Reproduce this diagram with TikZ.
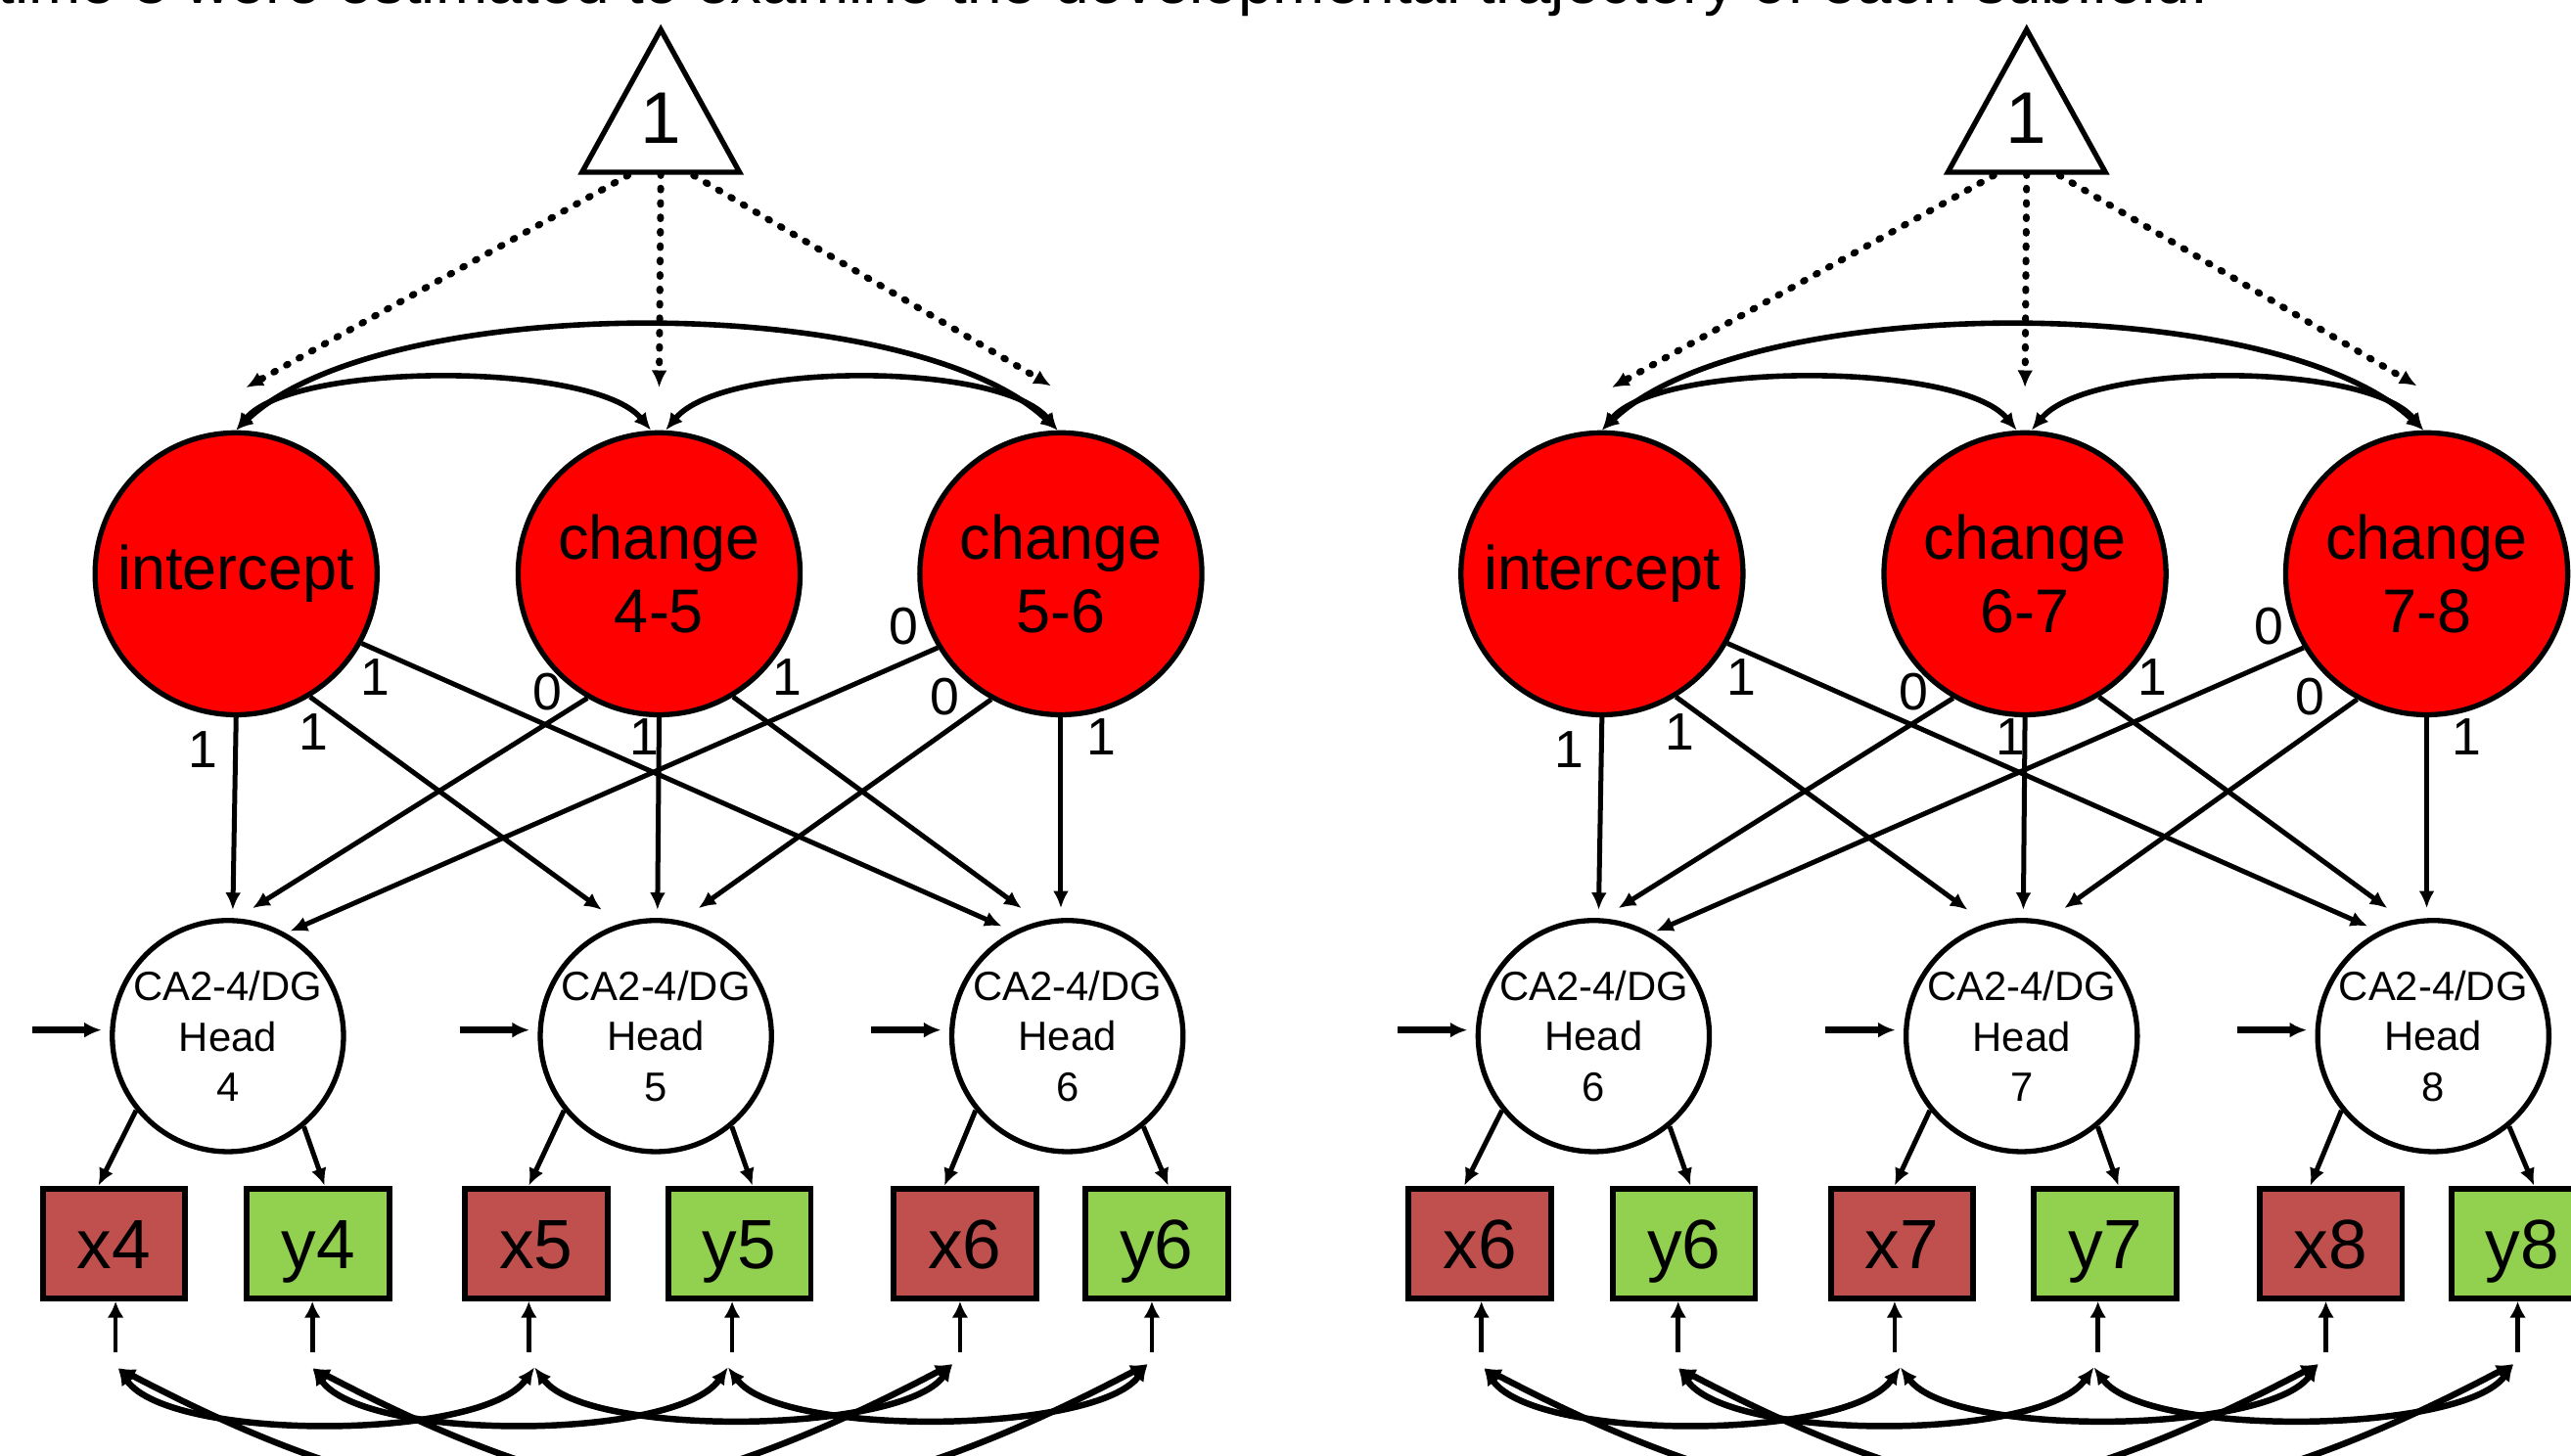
\documentclass[tikz,border=0pt]{standalone}
\usepackage{fontspec}
\setmainfont{Liberation Sans}
\usetikzlibrary{arrows.meta}
\definecolor{latred}{HTML}{FF0000}
\definecolor{boxred}{HTML}{C0504D}
\definecolor{boxgreen}{HTML}{92D050}
\tikzset{
  mytip/.tip={Latex[length=1.05mm,width=0.95mm]},
  smalltip/.tip={Latex[length=1.0mm,width=1.0mm]},
  latent/.style={circle, draw, line width=0.9pt, fill=latred, minimum size=17.2mm, inner sep=0pt, align=center, font=\fontsize{10.7}{12.8}\selectfont},
  headc/.style={circle, draw, line width=0.9pt, fill=white, minimum size=14.1mm, inner sep=0pt},
  headtxt/.style={align=center, inner sep=0pt, font=\fontsize{7.1}{8.7}\selectfont},
  obsbox/.style={rectangle, draw, line width=1.0pt, minimum width=8.7mm, minimum height=6.7mm, inner sep=0pt, text height=3.1mm, text depth=0mm, font=\fontsize{12.1}{14}\selectfont},
  load/.style={line width=0.85pt, -mytip},
  lbl/.style={inner sep=0pt, font=\fontsize{9.1}{10}\selectfont},
  covtop/.style={line width=0.95pt, mytip-mytip},
  covbot/.style={line width=1.1pt, mytip-mytip},
  meanline/.style={line width=1.2pt, line cap=round, dash pattern=on 0.3pt off 2.2pt, -mytip},
  residh/.style={line width=1.1pt, -mytip},
  residb/.style={line width=0.8pt, -smalltip},
}
\newcommand{\mypanel}[5]{%
\begin{scope}[shift={(#2,0)}]
  % mean triangle
  \draw[line width=0.9pt, fill=white] (403,18) -- (451,105) -- (355,105) -- cycle;
  \node[inner sep=0pt, font=\fontsize{12.7}{14}\selectfont] (#1one) at (403,72) {1};
  \coordinate (#1tri) at (403,106);
  % latent growth factors
  \node[latent] (#1I) at (144,350) {intercept};
  \node[latent] (#1C1) at (402,350) {change\\#3-#4};
  \node[latent] (#1C2) at (647,350) {change\\#4-#5};
  % head latent variables
  \node[headc, label={[headtxt]center:{CA2-4/DG\\Head\\#3}}] (#1Ha) at (139,632) {};
  \node[headc, label={[headtxt]center:{CA2-4/DG\\Head\\#4}}] (#1Hb) at (400,632) {};
  \node[headc, label={[headtxt]center:{CA2-4/DG\\Head\\#5}}] (#1Hc) at (651,632) {};
  % observed indicators
  \node[obsbox, fill=boxred]   (#1xa) at (69.5,758.5) {x#3};
  \node[obsbox, fill=boxgreen] (#1ya) at (194,758.5)  {y#3};
  \node[obsbox, fill=boxred]   (#1xb) at (327,758.5)  {x#4};
  \node[obsbox, fill=boxgreen] (#1yb) at (451,758.5)  {y#4};
  \node[obsbox, fill=boxred]   (#1xc) at (588.5,758.5) {x#5};
  \node[obsbox, fill=boxgreen] (#1yc) at (705.5,758.5) {y#5};
  % means (dotted)
  \draw[meanline] ([shift={(-20,1)}]#1tri) -- ([shift={(6,-26)}]#1I.north);
  \draw[meanline] (#1tri) -- ([shift={(0,-26)}]#1C1.north);
  \draw[meanline] ([shift={(20,1)}]#1tri) -- ([shift={(-6,-27)}]#1C2.north);
  % covariances among growth factors
  \draw[covtop] (#1I.north) .. controls +(90,-85) and +(-90,-85) .. ([shift={(-2,0)}]#1C2.north);
  \draw[covtop] (#1I.north) .. controls +(35,-42) and +(-35,-42) .. ([shift={(-5,0)}]#1C1.north);
  \draw[covtop] ([shift={(4,0)}]#1C1.north) .. controls +(35,-42) and +(-35,-42) .. ([shift={(-2,0)}]#1C2.north);
  % loadings
  \draw[load] (#1I.south) -- ([shift={(3,-77)}]#1Ha.center);
  \draw[load] (#1C1.240.5) -- ([shift={(15,-78)}]#1Ha.center);
  \draw[load] (#1C2.211) -- ([shift={(38,-64)}]#1Ha.center);
  \draw[load] (#1I.-59) -- ([shift={(-33,-77)}]#1Hb.center);
  \draw[load] (#1C1.south) -- ([shift={(1,-77)}]#1Hb.center);
  \draw[load] (#1C2.241) -- ([shift={(26,-78)}]#1Hb.center);
  \draw[load] (#1I.-29) -- ([shift={(-40,-67)}]#1Hc.center);
  \draw[load] (#1C1.-59.4) -- ([shift={(-28,-78)}]#1Hc.center);
  \draw[load] (#1C2.south) -- ([shift={(-4,-78)}]#1Hc.center);
  % loading labels
  \node[lbl] (#1l1) at (124,457) {1};
  \node[lbl] (#1l2) at (191.5,446.5) {1};
  \node[lbl] (#1l3) at (229,413) {1};
  \node[lbl] (#1l4) at (334,422) {0};
  \node[lbl] (#1l5) at (393,449.5) {1};
  \node[lbl] (#1l6) at (480,413) {1};
  \node[lbl] (#1l7) at (551,382) {0};
  \node[lbl] (#1l8) at (576,425) {0};
  \node[lbl] (#1l9) at (671.5,449.5) {1};
  % residual arrows into head variables
  \foreach \h in {Ha,Hb,Hc}{
    \draw[residh] ([shift={(-47.5,-3.7)}]#1\h.west) -- ([shift={(-5,-3.7)}]#1\h.west);
  }
  % head -> indicators
  \draw[load] (#1Ha.219.5) -- ([shift={(-9.5,0)}]#1xa.north);
  \draw[load] (#1Ha.-50) -- ([shift={(4,0)}]#1ya.north);
  \draw[load] (#1Hb.219.5) -- ([shift={(-4.5,0)}]#1xb.north);
  \draw[load] (#1Hb.-50) -- ([shift={(8,0)}]#1yb.north);
  \draw[load] (#1Hc.219.5) -- ([shift={(-12.5,0)}]#1xc.north);
  \draw[load] (#1Hc.-50) -- ([shift={(7,0)}]#1yc.north);
  % residual arrows into indicators
  \draw[residb] ([shift={(1,31)}]#1xa.south) -- ([shift={(1,0)}]#1xa.south);
  \draw[residb] ([shift={(-3.5,31)}]#1ya.south) -- ([shift={(-3.5,0)}]#1ya.south);
  \draw[residb] ([shift={(-4.5,31)}]#1xb.south) -- ([shift={(-4.5,0)}]#1xb.south);
  \draw[residb] ([shift={(-4.5,31)}]#1yb.south) -- ([shift={(-4.5,0)}]#1yb.south);
  \draw[residb] ([shift={(-3,31)}]#1xc.south) -- ([shift={(-3,0)}]#1xc.south);
  \draw[residb] ([shift={(-3,31)}]#1yc.south) -- ([shift={(-3,0)}]#1yc.south);
  % residual covariances
  \coordinate (#1txa) at ([shift={(2.5,76)}]#1xa.center);
  \coordinate (#1tya) at ([shift={(-3.4,76)}]#1ya.center);
  \coordinate (#1txb) at ([shift={(-1,75.5)}]#1xb.center);
  \coordinate (#1tyb) at ([shift={(-7,75.5)}]#1yb.center);
  \coordinate (#1txc) at ([shift={(-7.5,73.5)}]#1xc.center);
  \coordinate (#1tyc) at ([shift={(-5.5,73.5)}]#1yc.center);
  \draw[covbot] (#1txa) .. controls +(32,45) and +(-32,45) .. (#1txb);
  \draw[covbot] (#1tya) .. controls +(32,45) and +(-32,45) .. (#1tyb);
  \draw[covbot] (#1txb) .. controls +(32,43) and +(-32,43) .. (#1txc);
  \draw[covbot] (#1tyb) .. controls +(32,43) and +(-32,43) .. (#1tyc);
  \draw[covbot] (#1txa) .. controls +(200,105) and +(-200,105) .. (#1txc);
  \draw[covbot] (#1tya) .. controls +(200,105) and +(-200,105) .. (#1tyc);
\end{scope}}
\begin{document}
\begin{tikzpicture}[x=0.1mm, y=-0.1mm]
  \useasboundingbox (0,0) rectangle (1568,888);
  \fill[white] (0,0) rectangle (1568,888);
  \clip (0,0) rectangle (1568,888);
  \node[anchor=base west, inner sep=0pt, font=\fontsize{10.85}{13}\selectfont] (toptext) at (-2,2) {time 3 were estimated to examine the developmental trajectory of each subfield.};
  \mypanel{L}{0}{4}{5}{6}
  \mypanel{R}{833}{6}{7}{8}
\end{tikzpicture}
\end{document}
